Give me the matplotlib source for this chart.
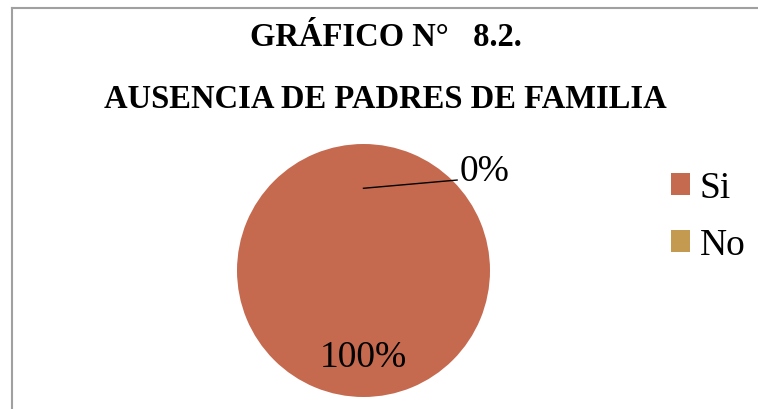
import numpy as np
import matplotlib
matplotlib.use("Agg")
import matplotlib.pyplot as plt
from matplotlib.lines import Line2D

# data
categories = ["Si", "No"]
values = [100, 0]
pct_labels = ["100%", "0%"]
colors = ["#C5694F", "#C49A50"]

plt.rcParams['font.family'] = ['Liberation Serif', 'DejaVu Serif']

fig = plt.figure(figsize=(7.58, 4.10), dpi=100)

# frame around the chart (runs off the right and bottom edges)
fig.add_artist(Line2D([12 / 758, 12 / 758], [0, 1 - 9 / 410], color="#a0a0a0", lw=1.5,
                      transform=fig.transFigure))
fig.add_artist(Line2D([12 / 758, 1], [1 - 9 / 410, 1 - 9 / 410], color="#a0a0a0", lw=1.5,
                      transform=fig.transFigure))

fig.text(386 / 758, 1 - 46 / 410, "GRÁFICO N°   8.2.", ha="center", va="baseline",
         fontsize=23.5, fontweight="bold")
fig.text(385 / 758, 1 - 108 / 410, "AUSENCIA DE PADRES DE FAMILIA", ha="center", va="baseline",
         fontsize=23.5, fontweight="bold")

ax = fig.add_axes([237 / 758, 12 / 410, 253 / 758, 253 / 410])
wedges, _ = ax.pie(values, colors=colors, startangle=90, counterclock=False, radius=1)
ax.set_xlim(-1, 1)
ax.set_ylim(-1, 1)
ax.set_aspect("equal")
ax.axis("off")

# percentage labels
for w, lab in zip(wedges, pct_labels):
    mid = np.deg2rad((w.theta1 + w.theta2) / 2)
    if w.theta2 - w.theta1 > 1:
        ax.text(0.68 * np.cos(mid), 0.68 * np.sin(mid), lab, ha="center", va="center",
                fontsize=27)
    else:
        x0, y0 = 0.65 * np.cos(mid), 0.65 * np.sin(mid)
        ax.plot([x0, 0.74], [y0, 0.715], color="black", lw=1, clip_on=False)
        ax.text(0.76, 0.79, lab, ha="left", va="center", fontsize=27, clip_on=False)

fig.legend(wedges, categories, loc="upper left", bbox_to_anchor=(671 / 758, 1 - 172 / 410),
           frameon=False, fontsize=27, handlelength=0.51, handleheight=0.51,
           handletextpad=0.25, labelspacing=0.6, borderpad=0, borderaxespad=0)

fig.savefig("out.png", dpi=100)
